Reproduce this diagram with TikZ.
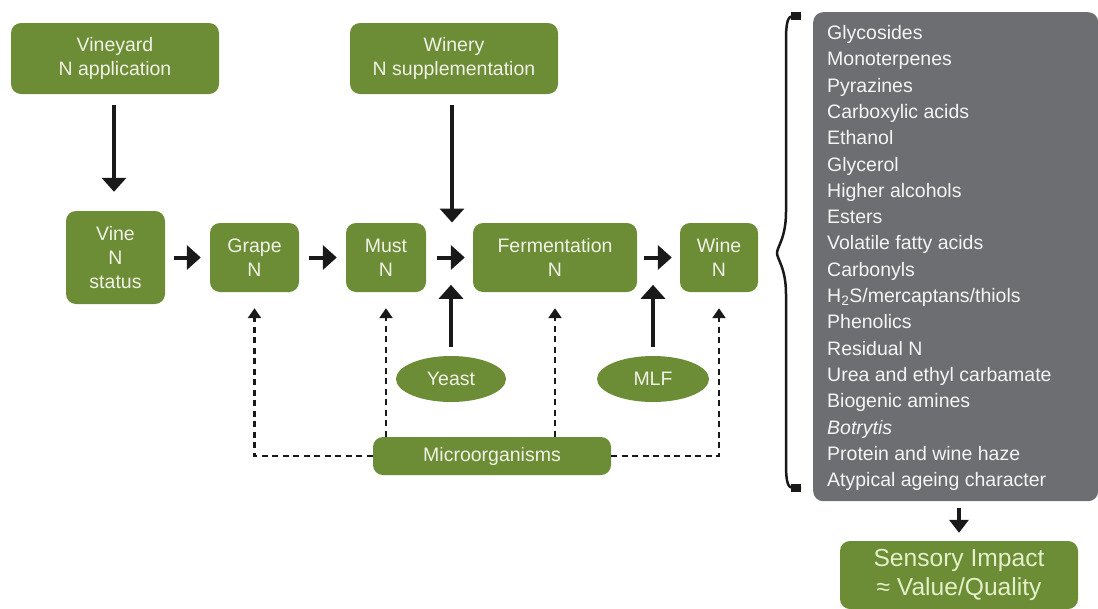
\documentclass[tikz,border=0pt]{standalone}
\usepackage{fontspec}
\setmainfont{Liberation Sans}
\usetikzlibrary{arrows.meta,shapes.geometric,calc}
\definecolor{wgreen}{RGB}{108,140,54}
\definecolor{wgrey}{RGB}{109,110,113}
\definecolor{wtext}{RGB}{240,242,230}
\definecolor{stext}{RGB}{228,240,200}
\begin{document}
\begin{tikzpicture}[x=1pt,y=-1pt,
  gbox/.style={fill=wgreen, rounded corners=10pt, text=wtext, align=center,
    font=\fontsize{19.5}{24}\selectfont, inner sep=0pt},
  ell/.style={ellipse, fill=wgreen, text=wtext, font=\fontsize{19.5}{24}\selectfont, inner sep=0pt},
  big/.style={line width=4pt, draw=black!90, -{Triangle[width=24pt,length=14pt]}},
  mid/.style={line width=3.5pt, draw=black!90, -{Triangle[width=19pt,length=13pt]}},
  dsh/.style={line width=2.5pt, draw=black!90, dash pattern=on 6pt off 4.5pt, -{Triangle[width=13pt,length=10pt]}},
  item/.style={anchor=base west, text=white!96!black, font=\fontsize{19.5}{24}\selectfont, inner sep=0pt}
]
\useasboundingbox (0,0) rectangle (1098,608);

% main boxes
\node[gbox, minimum width=208pt, minimum height=71pt] (vy) at (115,58.5) {Vineyard\\N application};
\node[gbox, minimum width=208pt, minimum height=71pt] (wy) at (454,58.5) {Winery\\N supplementation};
\node[gbox, minimum width=99pt, minimum height=93pt] (vine) at (115.5,257.5) {Vine\\N\\status};
\node[gbox, minimum width=89pt, minimum height=69pt] (grape) at (254.5,257.5) {Grape\\N};
\node[gbox, minimum width=80pt, minimum height=69pt] (must) at (386,257.5) {Must\\N};
\node[gbox, minimum width=164pt, minimum height=69pt] (ferm) at (555,257.5) {Fermentation\\N};
\node[gbox, minimum width=78pt, minimum height=69pt] (wine) at (719,257.5) {Wine\\N};
\node[ell, minimum width=110pt, minimum height=46pt] (yeast) at (451,379) {Yeast};
\node[ell, minimum width=112pt, minimum height=46pt] (mlf) at (653,379) {MLF};
\node[gbox, minimum width=238pt, minimum height=38pt] (micro) at (492,456) {Microorganisms};
\coordinate (hub) at (452,257.5);

% solid arrows
\draw[big] ($(vy.south)+(-1,11)$) -- ($(vine.north)+(-1.5,-19)$);
\draw[big] ($(vine.east)+(9,0)$) -- ($(grape.west)+(-9,0)$);
\draw[big] ($(grape.east)+(10,0)$) -- ($(must.west)+(-9,0)$);
\draw[big] ($(must.east)+(11,0)$) -- ($(ferm.west)+(-8,0)$);
\draw[big] ($(ferm.east)+(7,0)$) -- ($(wine.west)+(-8,0)$);
\draw[big] ($(hub |- wy.south)+(0,11)$) -- ($(hub)+(0,-35)$);
\draw[big] ($(yeast.north)+(0,-9)$) -- ($(yeast.north)+(0,-71)$);
\draw[big] ($(mlf.north)+(0,-9)$) -- ($(mlf.north)+(0,-71)$);

% dashed arrows
\draw[dsh] (micro.west) -| ($(grape.south)+(0,16)$);
\draw[dsh] (micro.north -| must) -- ($(must.south)+(0,16)$);
\draw[dsh] (micro.north -| ferm) -- ($(ferm.south)+(0,16)$);
\draw[dsh] (micro.east) -| ($(wine.south)+(0,16)$);

% brace
\draw[line width=2.5pt, draw=black!90, line join=round]
  (801,16) -- (793,16) .. controls (788,16) and (786,22) .. (786,40)
  -- (786,212) .. controls (786,238) and (777,247) .. (777,253)
  .. controls (777,259) and (786,268) .. (786,294)
  -- (786,465) .. controls (786,482) and (788,488) .. (793,488) -- (801,488);
\fill[black!90] (791,12) rectangle (801,20);
\fill[black!90] (791,484) rectangle (801,492);

% grey panel
\node[fill=wgrey, rounded corners=10pt, anchor=north west, minimum width=285pt,
  minimum height=489pt, inner sep=0pt] (panel) at (813,12) {};
\foreach \t [count=\i from 0] in {Glycosides, Monoterpenes, Pyrazines, Carboxylic acids,
  Ethanol, Glycerol, Higher alcohols, Esters, Volatile fatty acids, Carbonyls,
  H\textsubscript{2}S/mercaptans/thiols, Phenolics, Residual N, Urea and ethyl carbamate,
  Biogenic amines, \textit{Botrytis}, Protein and wine haze, Atypical ageing character}
  \node[item] (it\i) at (827,39.5+26.3*\i) {\t};

% sensory
\node[gbox, minimum width=238pt, minimum height=68pt, font=\fontsize{24.6}{29}\selectfont,
  text=stext] (sens) at (959,575) {Sensory Impact\\≈ Value/Quality};
\draw[mid] ($(sens.north)+(0,-33)$) -- ($(sens.north)+(0,-8)$);
\end{tikzpicture}
\end{document}
